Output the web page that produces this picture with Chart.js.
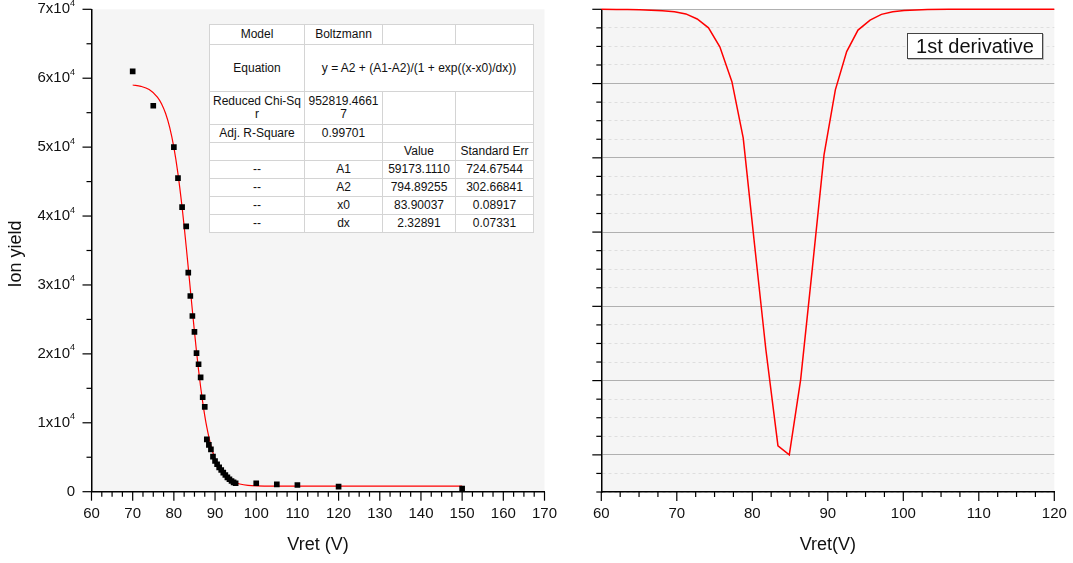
<!DOCTYPE html>
<html>
<head>
<meta charset="utf-8">
<script src="https://cdn.jsdelivr.net/npm/chart.js@4.4.1/dist/chart.umd.min.js"></script>
<style>
  body { margin: 0; background: #fff; font-family: "Liberation Sans", Arial, sans-serif; }
  .stage { position: relative; width: 1073px; height: 563px; overflow: hidden; }
  canvas { position: absolute; top: 0; }
  #fitTable {
    position: absolute; left: 209px; top: 24px; width: 324px;
    border-collapse: collapse; table-layout: fixed; background: #fff;
    font-size: 12px; color: #111; border: 1px solid #8c8c8c;
  }
  #fitTable td { border: 1px solid #d4d4d4; text-align: center; padding: 0; line-height: 13px; }
  #derivBox {
    position: absolute; left: 907px; top: 33px; width: 134px; height: 24px;
    border: 1px solid #444; background: #fff; box-shadow: 1px 1px 0 #bbb;
    font-size: 20px; line-height: 24px; text-align: center; color: #111;
  }
</style>
</head>
<body>
<div class="stage">
  <canvas id="fitChart" width="560" height="563" style="left:0"></canvas>
  <canvas id="derivChart" width="513" height="563" style="left:560px"></canvas>

  <table id="fitTable">
    <colgroup><col style="width:95px"><col style="width:78px"><col style="width:73px"><col style="width:78px"></colgroup>
    <tr style="height:20px"><td>Model</td><td>Boltzmann</td><td></td><td></td></tr>
    <tr style="height:47px"><td>Equation</td><td colspan="3">y = A2 + (A1-A2)/(1 + exp((x-x0)/dx))</td></tr>
    <tr style="height:33px"><td>Reduced Chi-Sq<br>r</td><td>952819.4661<br>7</td><td></td><td></td></tr>
    <tr style="height:18px"><td>Adj. R-Square</td><td>0.99701</td><td></td><td></td></tr>
    <tr style="height:18px"><td></td><td></td><td>Value</td><td>Standard Err</td></tr>
    <tr style="height:18px"><td>--</td><td>A1</td><td>59173.1110</td><td>724.67544</td></tr>
    <tr style="height:18px"><td>--</td><td>A2</td><td>794.89255</td><td>302.66841</td></tr>
    <tr style="height:18px"><td>--</td><td>x0</td><td>83.90037</td><td>0.08917</td></tr>
    <tr style="height:18px"><td>--</td><td>dx</td><td>2.32891</td><td>0.07331</td></tr>
  </table>

  <div id="derivBox">1st derivative</div>
</div>

<script>
// measured points (Vret, ion yield)
const obsV = [70, 75, 80, 81, 82, 83, 83.5, 84, 84.5, 85, 85.5, 86, 86.5, 87, 87.5, 88, 88.5, 89, 89.5, 90,
  90.5, 91, 91.5, 92, 92.5, 93, 93.5, 94, 94.5, 95, 100, 105, 110, 120, 150];
const obsYield = [61000, 56000, 50000, 45500, 41300, 38500, 31800, 28400, 25500, 23200, 20100, 18500, 16600, 13700,
  12300, 7600, 6800, 6150, 5100, 4450, 3980, 3540, 3150, 2760, 2420, 2090, 1800, 1550, 1360, 1220,
  1220, 1070, 970, 730, 440];

// red fitted curve
const fitV = [70, 72, 74, 76, 77, 78, 79, 80, 81, 82, 82.5, 83, 83.5, 84, 84.5, 85, 85.5, 86, 86.5, 87, 87.5, 88,
  89, 90, 91, 92, 93, 94, 95, 96, 98, 100, 105, 110, 120, 150];
const fitYield = [59020, 58820, 58350, 57270, 56310, 54880, 52830, 49960, 46120, 41270, 38510, 35550, 32480, 29360,
  26250, 23220, 20340, 17650, 15200, 13000, 11050, 9360, 6670, 4760, 3440, 2540, 1950, 1550, 1290, 1120,
  930, 850, 800, 795, 795, 795];

// 1st derivative curve (right panel, unlabeled y axis)
const derivV = [60, 62.0, 63.5, 65.1, 66.6, 68.1, 69.7, 71.2, 72.7, 74.2, 75.7, 77.3, 78.8, 80.3, 81.8, 83.4, 84.9,
  86.4, 87.9, 89.5, 91.0, 92.5, 94.0, 95.6, 97.1, 98.6, 100.1, 101.7, 103.2, 106, 110, 115, 120];
const derivY = [0, -2, -4, -7, -12, -20, -33, -62, -130, -250, -505, -975, -1735, -3170, -4585, -5880, -6000,
  -4990, -3540, -1960, -1085, -570, -280, -145, -68, -32, -16, -9, -4, -1, 0, 0, 0];

// tick labels
const fitXTicks = [60, 70, 80, 90, 100, 110, 120, 130, 140, 150, 160, 170];
const fitYTicks = [0, 10000, 20000, 30000, 40000, 50000, 60000, 70000];
const fitYLabels = ['0', '1x10', '2x10', '3x10', '4x10', '5x10', '6x10', '7x10'];
const fitYExp = ['', '4', '4', '4', '4', '4', '4', '4'];
const derivXTicks = [60, 70, 80, 90, 100, 110, 120];

const FONT = '"Liberation Sans", Arial, sans-serif';

const pairs = (xs, ys) => xs.map((v, i) => ({ x: v, y: ys[i] }));

// plot background, outward tick marks, tick labels and axis titles
const axisDecor = {
  id: 'axisDecor',
  beforeDraw(chart) {
    const { ctx, chartArea: a } = chart;
    ctx.save();
    ctx.fillStyle = '#f5f5f5';
    ctx.fillRect(a.left, a.top, a.right - a.left, a.bottom - a.top);
    ctx.restore();
  },
  afterDraw(chart, args, opts) {
    const { ctx, chartArea: a, scales: { x, y } } = chart;
    ctx.save();
    ctx.strokeStyle = '#000';
    ctx.lineWidth = 1.2;

    const xMinor = opts.xStep / 4;
    for (let i = 0; x.min + i * xMinor <= x.max + 1e-9; i++) {
      const px = x.getPixelForValue(x.min + i * xMinor);
      ctx.beginPath();
      ctx.moveTo(px, a.bottom);
      ctx.lineTo(px, a.bottom + (i % 4 === 0 ? 9 : 5));
      ctx.stroke();
    }
    const yMinor = opts.yStep / opts.ySub;
    for (let i = 0; y.min + i * yMinor <= y.max + 1e-9; i++) {
      const py = y.getPixelForValue(y.min + i * yMinor);
      const major = Math.abs((y.min + i * yMinor) % opts.yStep) < 1e-6;
      ctx.beginPath();
      ctx.moveTo(a.left, py);
      ctx.lineTo(a.left - (major ? 9 : 5), py);
      ctx.stroke();
    }

    ctx.fillStyle = '#111';
    ctx.font = '15px ' + FONT;
    ctx.textAlign = 'center';
    ctx.textBaseline = 'middle';
    opts.xTicks.forEach(v => ctx.fillText(String(v), x.getPixelForValue(v), a.bottom + 22));

    if (opts.yTicks) {
      opts.yTicks.forEach((v, i) => {
        const py = y.getPixelForValue(v);
        const right = a.left - 16.5;
        ctx.font = '9px ' + FONT;
        const supW = opts.yExp[i] ? ctx.measureText(opts.yExp[i]).width : 0;
        ctx.textAlign = 'left';
        if (supW) ctx.fillText(opts.yExp[i], right - supW, py - 6);
        ctx.font = '15px ' + FONT;
        ctx.textAlign = 'right';
        ctx.fillText(opts.yLabels[i], right - supW, py);
      });
    }

    ctx.font = '18px ' + FONT;
    ctx.textAlign = 'center';
    ctx.fillText(opts.xTitle, (a.left + a.right) / 2, 545);
    if (opts.yTitle) {
      ctx.translate(16, 254);
      ctx.rotate(-Math.PI / 2);
      ctx.fillText(opts.yTitle, 0, 0);
    }
    ctx.restore();
  }
};

const baseOptions = {
  responsive: false,
  animation: false,
  devicePixelRatio: 1,
  plugins: { legend: { display: false }, tooltip: { enabled: false } },
};

new Chart(document.getElementById('fitChart'), {
  type: 'scatter',
  data: {
    datasets: [
      {
        label: 'Ion yield',
        data: pairs(obsV, obsYield),
        pointStyle: 'rect',
        pointRadius: 4,
        backgroundColor: '#000',
        borderColor: '#000',
        borderWidth: 0,
      },
      {
        type: 'line',
        label: 'Boltzmann fit',
        data: pairs(fitV, fitYield),
        borderColor: '#ff0000',
        borderWidth: 1.2,
        pointRadius: 0,
        cubicInterpolationMode: 'monotone',
        fill: false,
      },
    ]
  },
  options: {
    ...baseOptions,
    layout: { padding: { left: 91.5, right: 15.5, top: 9.3, bottom: 71.3 } },
    scales: {
      x: {
        type: 'linear', min: 60, max: 170,
        grid: { display: false, drawTicks: false },
        border: { display: true, color: '#000', width: 1.5 },
        ticks: { display: false },
      },
      y: {
        type: 'linear', min: 0, max: 70000,
        grid: { display: false, drawTicks: false },
        border: { display: true, color: '#000', width: 1.5 },
        ticks: { display: false },
      },
    },
    plugins: {
      ...baseOptions.plugins,
      axisDecor: {
        xStep: 10, yStep: 10000, ySub: 2,
        xTicks: fitXTicks, yTicks: fitYTicks, yLabels: fitYLabels, yExp: fitYExp,
        xTitle: 'Vret (V)', yTitle: 'Ion yield',
      },
    },
  },
  plugins: [axisDecor],
});

new Chart(document.getElementById('derivChart'), {
  type: 'line',
  data: {
    datasets: [{
      label: '1st derivative',
      data: pairs(derivV, derivY),
      borderColor: '#ff0000',
      borderWidth: 1.5,
      pointRadius: 0,
      tension: 0,
      clip: false,
      fill: false,
    }]
  },
  options: {
    ...baseOptions,
    layout: { padding: { left: 41.3, right: 18.7, top: 9.3, bottom: 71 } },
    scales: {
      x: {
        type: 'linear', min: 60, max: 120,
        grid: { display: false, drawTicks: false },
        border: { display: true, color: '#000', width: 1.5 },
        ticks: { display: false },
      },
      y: {
        type: 'linear', min: -6500, max: 0,
        ticks: { display: false, stepSize: 250 },
        grid: {
          drawTicks: false,
          color: (c) => (c.tick && c.tick.value % 1000 === 0 ? '#b0b0b0' : '#dedede'),
          lineWidth: 1,
        },
        border: {
          display: true, color: '#000', width: 1.5,
          dash: (c) => (c.tick && c.tick.value % 1000 !== 0 ? [3, 3] : []),
        },
      },
    },
    plugins: {
      ...baseOptions.plugins,
      axisDecor: { xStep: 10, yStep: 1000, ySub: 4, xTicks: derivXTicks, xTitle: 'Vret(V)' },
    },
  },
  plugins: [axisDecor],
});
</script>
</body>
</html>
